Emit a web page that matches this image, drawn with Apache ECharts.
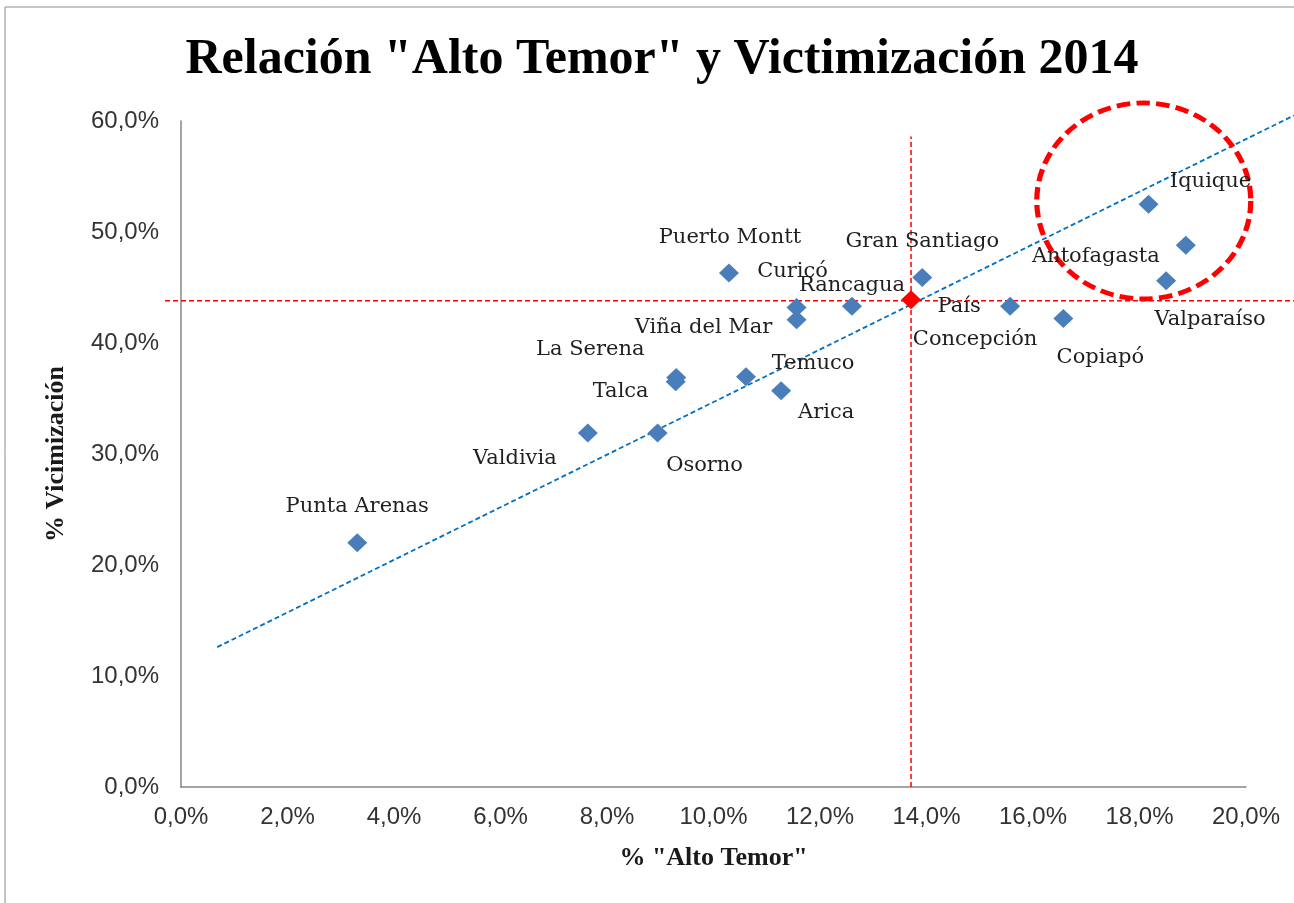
<!DOCTYPE html>
<html><head><meta charset="utf-8">
<script src="https://cdn.jsdelivr.net/npm/echarts/dist/echarts.min.js"></script>
<style>html,body{margin:0;padding:0;background:#fff}#c{width:1294px;height:903px}</style>
</head><body><div id="c"></div>
<script>
// ---- data (percent units) ----
const cities = ["Punta Arenas","Valdivia","Osorno","Talca","La Serena","Temuco","Arica","Puerto Montt","Curicó","Viña del Mar","Rancagua","Gran Santiago","Concepción","Copiapó","Valparaíso","Antofagasta","Iquique"];
const altoTemor = [3.31, 7.64, 8.95, 9.29, 9.30, 10.61, 11.27, 10.29, 11.56, 11.56, 12.60, 13.92, 15.57, 16.57, 18.50, 18.87, 18.17];
const victimizacion = [22.0, 31.9, 31.9, 36.5, 36.9, 36.96, 35.7, 46.3, 43.2, 42.1, 43.3, 45.9, 43.3, 42.2, 45.6, 48.8, 52.5];
const paisName = "País";
const paisAltoTemor = 13.71;
const paisVictimizacion = 43.9;
const trendLine = [0.68, 12.6, 20.9, 60.5];      // x1, y1, x2, y2
const refLineH = [-0.3, 43.8, 20.9, 43.8];
const refLineV = [13.71, 0, 13.71, 58.6];
const highlightCenter = [18.08, 52.8];
const xTicks = [0, 2, 4, 6, 8, 10, 12, 14, 16, 18, 20];
const yTicks = [0, 10, 20, 30, 40, 50, 60];

// ---- styles ----
const labelOffsets = {
  "Punta Arenas": [0, -36], "Valdivia": [-73, 26], "Osorno": [47, 33], "Talca": [-55, 10],
  "La Serena": [-86, -28], "Temuco": [67, -13], "Arica": [45, 22], "Puerto Montt": [1, -36],
  "Curicó": [-4, -36], "Viña del Mar": [-93, 8], "Rancagua": [0, -21], "Gran Santiago": [0, -36],
  "Concepción": [-35, 33], "Copiapó": [37, 39], "Valparaíso": [44, 39], "Antofagasta": [-90, 11],
  "Iquique": [62, -23], "País": [48, 7]
};
const labelFont = {fontFamily: "DejaVu Serif", fontSize: 21, color: "#1f1f1f"};
const tickFont = {fontFamily: "'Liberation Sans', sans-serif", fontSize: 24, color: "#333"};
const nameFont = {fontFamily: "'Liberation Serif', serif", fontWeight: 'bold', fontSize: 26, color: '#1a1a1a'};
const fmt = v => v.toFixed(1).replace('.', ',') + '%';

function mkLabel(name) {
  return Object.assign({show: true, formatter: name, position: 'inside', align: 'center', verticalAlign: 'middle', offset: labelOffsets[name]}, labelFont);
}
function segSeries(seg, color, width, z) {
  return {
    type: 'custom', silent: true, clip: false, z: z,
    data: [seg],
    renderItem: function (params, api) {
      const p1 = api.coord([api.value(0), api.value(1)]);
      const p2 = api.coord([api.value(2), api.value(3)]);
      return {type: 'line', shape: {x1: p1[0], y1: p1[1], x2: p2[0], y2: p2[1]},
              style: {stroke: color, lineWidth: width, lineDash: [5, 3], fill: null}};
    }
  };
}

const cityData = cities.map((c, i) => ({name: c, value: [altoTemor[i], victimizacion[i]], label: mkLabel(c)}));

const chart = echarts.init(document.getElementById('c'));
chart.setOption({
  animation: false,
  backgroundColor: '#fff',
  title: {
    text: 'Relación "Alto Temor" y Victimización 2014',
    left: 657, top: 30, textAlign: 'center',
    textStyle: {fontFamily: "'Liberation Serif', serif", fontWeight: 'bold', fontSize: 50, color: '#000'}
  },
  graphic: [{type: 'rect', shape: {x: 5, y: 7, width: 1400, height: 1000}, style: {fill: 'none', stroke: '#8c8c8c', lineWidth: 1}, silent: true}],
  grid: {left: 181, right: 48, top: 121, bottom: 116},
  xAxis: {
    type: 'value', min: xTicks[0], max: xTicks[xTicks.length - 1], interval: 2,
    axisLine: {lineStyle: {color: '#868686', width: 1.5}}, axisTick: {show: false}, splitLine: {show: false},
    axisLabel: Object.assign({formatter: fmt, margin: 18}, tickFont),
    name: '% "Alto Temor"', nameLocation: 'middle', nameGap: 58, nameTextStyle: nameFont
  },
  yAxis: {
    type: 'value', min: yTicks[0], max: yTicks[yTicks.length - 1], interval: 10,
    axisLine: {show: true, lineStyle: {color: '#868686', width: 1.5}}, axisTick: {show: false}, splitLine: {show: false},
    axisLabel: Object.assign({formatter: fmt, margin: 22}, tickFont),
    name: '% Vicimización', nameLocation: 'middle', nameGap: 112, nameTextStyle: nameFont
  },
  series: [
    segSeries(trendLine, '#0070C0', 1.8, 2),
    segSeries(refLineH, '#ff0000', 1.5, 3),
    segSeries(refLineV, '#ff0000', 1.5, 3),
    {type: 'scatter', data: cityData, symbol: 'diamond', symbolSize: [20, 19], itemStyle: {color: '#4A7EBB', opacity: 1}, z: 5},
    {type: 'scatter', data: [{name: paisName, value: [paisAltoTemor, paisVictimizacion], label: mkLabel(paisName)}], symbol: 'diamond', symbolSize: [20, 19], itemStyle: {color: '#ff0000', opacity: 1}, z: 6},
    {type: 'scatter', data: [highlightCenter], symbol: 'circle', symbolSize: [214, 196], silent: true, clip: false,
     itemStyle: {color: 'rgba(0,0,0,0)', opacity: 1, borderColor: '#ff0000', borderWidth: 5, borderType: [13, 6]}, z: 4}
  ]
});
</script></body></html>
